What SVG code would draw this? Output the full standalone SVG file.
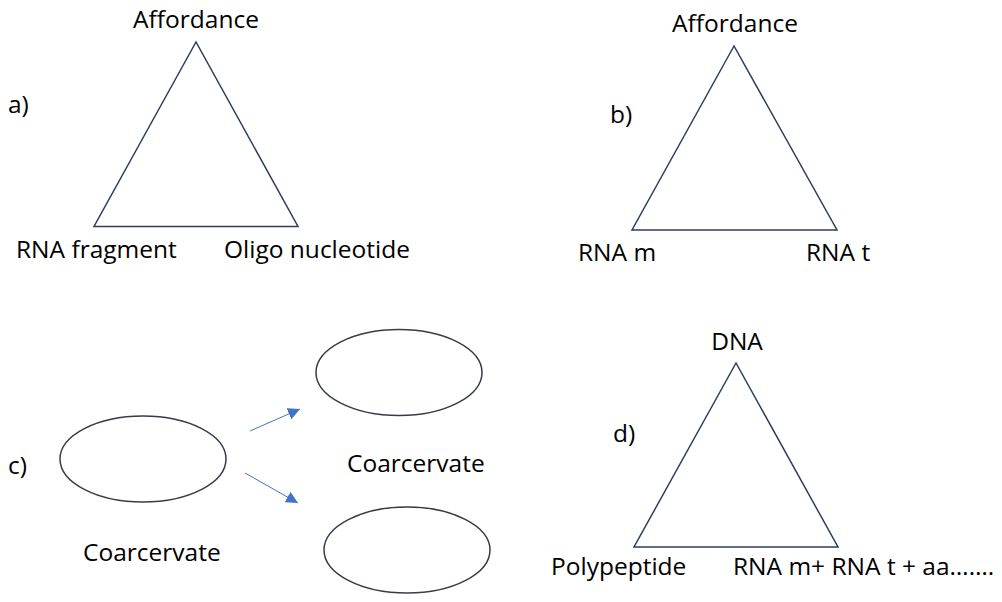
<svg xmlns="http://www.w3.org/2000/svg" width="1002" height="602" viewBox="0 0 1002 602">
<style>
text{font-family:"Open Sans","Noto Sans",sans-serif;font-size:24.5px;fill:#000}
.tri{fill:none;stroke:#2F3E5E;stroke-width:1.5;stroke-linejoin:miter}
.ell{fill:none;stroke:#363C48;stroke-width:1.5}
.arr{fill:none;stroke:#4472C4;stroke-width:1;marker-end:url(#ah)}
</style>
<defs>
<marker id="ah" viewBox="0 0 10 10" refX="10" refY="5" markerWidth="12" markerHeight="12" markerUnits="userSpaceOnUse" orient="auto">
<path d="M0,0 L10,5 L0,10 Z" fill="#4472C4"/>
</marker>
</defs>
<rect width="1002" height="602" fill="#fff"/>
<g id="panel-a">
<polygon class="tri" points="196,42 94,226.5 298,226.5"/>
<text x="196" y="28" text-anchor="middle">Affordance</text>
<text x="8" y="113">a)</text>
<text x="16" y="258">RNA fragment</text>
<text x="224" y="258">Oligo nucleotide</text>
</g>
<g id="panel-b">
<polygon class="tri" points="734,46 632,230 837,230"/>
<text x="735" y="32" text-anchor="middle">Affordance</text>
<text x="610" y="123">b)</text>
<text x="578" y="261">RNA m</text>
<text x="806" y="261">RNA t</text>
</g>
<g id="panel-c">
<text x="8" y="474">c)</text>
<g id="coacervate-left">
<ellipse class="ell" cx="143" cy="459" rx="83" ry="43"/>
<text x="83" y="561">Coarcervate</text>
</g>
<g id="coacervate-top">
<ellipse class="ell" cx="399" cy="372.5" rx="83" ry="43"/>
<text x="347" y="472">Coarcervate</text>
</g>
<g id="coacervate-bottom">
<ellipse class="ell" cx="407" cy="550" rx="83" ry="43"/>
</g>
</g>
<g id="connectors">
<line class="arr" x1="250" y1="431" x2="300" y2="409"/>
<line class="arr" x1="245" y1="473" x2="298" y2="503"/>
</g>
<g id="panel-d">
<polygon class="tri" points="736,363 634,547 838,547"/>
<text x="737" y="350" text-anchor="middle">DNA</text>
<text x="613" y="442">d)</text>
<text x="551" y="575">Polypeptide</text>
<text x="733" y="575">RNA m+ RNA t + aa…….</text>
</g>
</svg>
